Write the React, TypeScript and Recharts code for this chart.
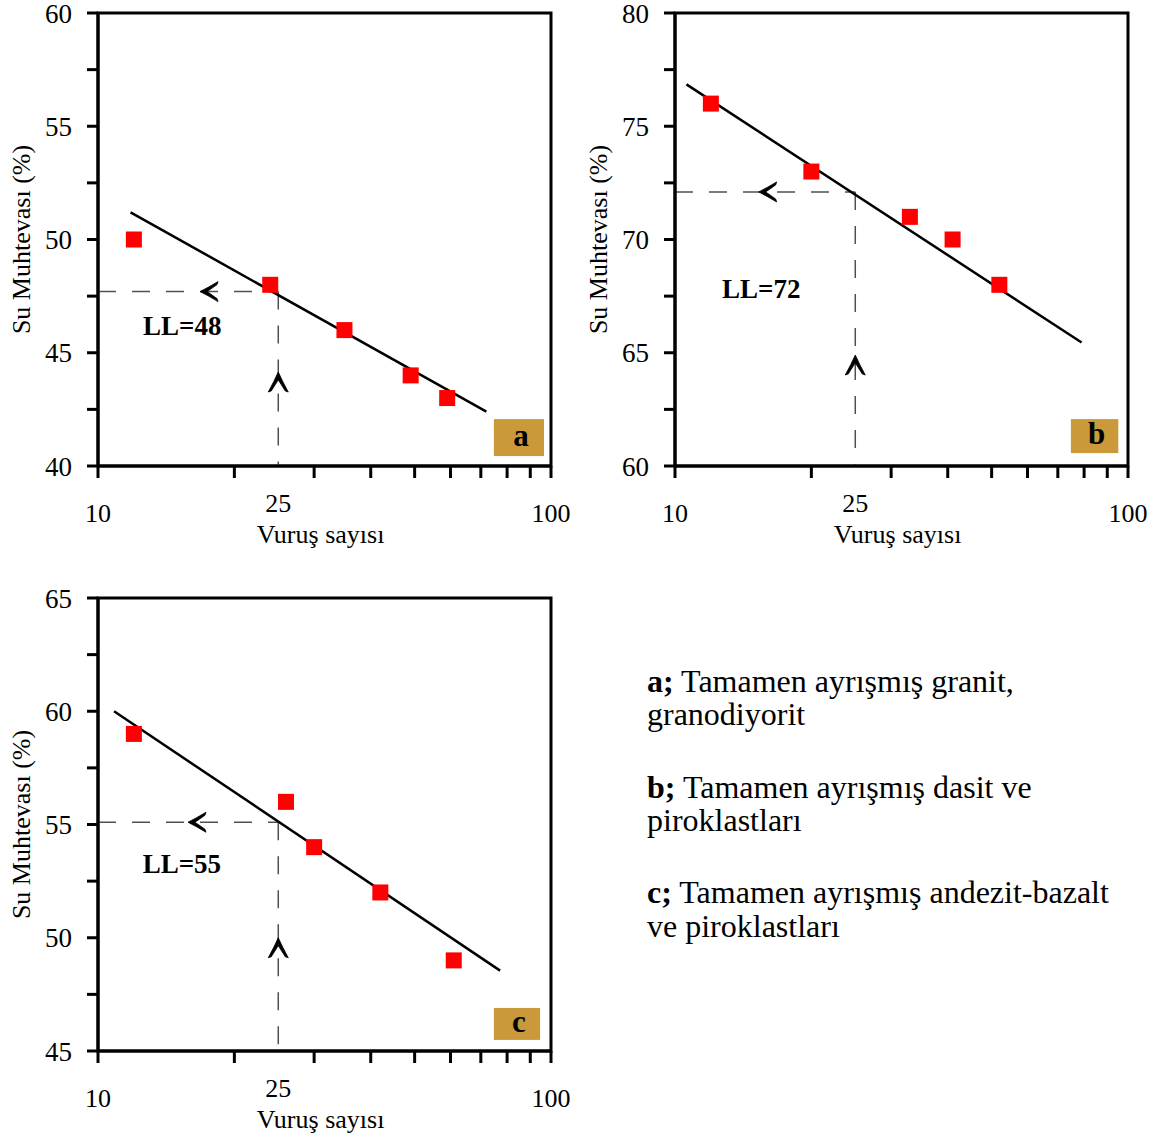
import React from 'react';
import {
  ComposedChart,
  Scatter,
  XAxis,
  YAxis,
  ReferenceLine,
  ReferenceArea,
  ReferenceDot,
  Label,
} from 'recharts';

// ---------- data ----------
const blowsA = [12, 24, 35, 49, 59];
const waterA = [50, 48, 46, 44, 43];
const blowsB = [12, 20, 33, 41, 52];
const waterB = [76, 73, 71, 70, 68];
const blowsC = [12, 26, 30, 42, 61];
const waterC = [59, 56, 54, 52, 49];

const fitXA = [11.8, 72];
const fitYA = [51.2, 42.4];
const fitXB = [10.6, 79];
const fitYB = [76.85, 65.45];
const fitXC = [10.85, 77.2];
const fitYC = [60.0, 48.55];

const llValues = [47.7, 72.1, 55.1];
const llTexts = ['LL=48', 'LL=72', 'LL=55'];
const blows25 = 25;

const xTicks = [10, 20, 25, 30, 40, 50, 60, 70, 80, 90, 100];
const xLabelTicks = [10, 25, 100];
const yTicksA = [40, 42.5, 45, 47.5, 50, 52.5, 55, 57.5, 60];
const yTicksB = [60, 62.5, 65, 67.5, 70, 72.5, 75, 77.5, 80];
const yTicksC = [45, 47.5, 50, 52.5, 55, 57.5, 60, 62.5, 65];

const xTitle = 'Vuruş sayısı';
const yTitle = 'Su Muhtevası (%)';
const badges = ['a', 'b', 'c'];

const legendLines = [
  { bold: 'a;', text: ' Tamamen ayrışmış granit,' },
  { bold: '', text: 'granodiyorit' },
  { bold: 'b;', text: ' Tamamen ayrışmış dasit ve' },
  { bold: '', text: 'piroklastları' },
  { bold: 'c;', text: ' Tamamen ayrışmış andezit-bazalt' },
  { bold: '', text: 've piroklastları' },
];

// ---------- styles ----------
const FONT = "'Liberation Serif', 'Times New Roman', Times, serif";
const DASH = '#505050';
const BADGE = '#C9993A';

const XTick = (props: any) => {
  const { x, y, payload } = props;
  const v = payload.value;
  const major = v % 10 === 0;
  const showLabel = xLabelTicks.includes(v);
  return (
    <g>
      {major && <line x1={x} y1={y - 12} x2={x} y2={y} stroke="#000" strokeWidth={3} />}
      {showLabel && (
        <text x={x} y={v === 25 ? y + 34 : y + 44} textAnchor="middle" fontFamily={FONT} fontSize={26} fill="#000">
          {v}
        </text>
      )}
    </g>
  );
};

const leftHead = (cx: number, cy: number) =>
  `M ${cx} ${cy} Q ${cx + 8} ${cy - 4} ${cx + 18} ${cy - 10} L ${cx + 17} ${cy - 7} Q ${cx + 10} ${cy - 2} ${cx + 7} ${cy} Q ${cx + 10} ${cy + 2} ${cx + 17} ${cy + 7} L ${cx + 18} ${cy + 10} Q ${cx + 8} ${cy + 4} ${cx} ${cy} Z`;
const upHead = (cx: number, cy: number) =>
  `M ${cx} ${cy} Q ${cx - 4} ${cy + 9} ${cx - 10} ${cy + 20} L ${cx - 7} ${cy + 19} Q ${cx - 2} ${cy + 11} ${cx} ${cy + 8} Q ${cx + 2} ${cy + 11} ${cx + 7} ${cy + 19} L ${cx + 10} ${cy + 20} Q ${cx + 4} ${cy + 9} ${cx} ${cy} Z`;

type PanelProps = {
  left: number;
  top: number;
  blows: number[];
  water: number[];
  fitX: number[];
  fitY: number[];
  yDomain: [number, number];
  yTicks: number[];
  ll: number;
  llText: string;
  llPos: [number, number];
  hArrowX: number;
  vArrowY: number;
  badge: string;
  badgeBox: [number, number, number, number];
};

const Panel = (p: PanelProps) => {
  const pts = p.blows.map((b, i) => ({ x: b, y: p.water[i] }));
  const [y0, y1] = p.yDomain;
  return (
    <div style={{ position: 'absolute', left: p.left, top: p.top }}>
      <ComposedChart width={580} height={553} margin={{ top: 13, right: 29, bottom: 27, left: 38 }}>
        <XAxis
          type="number"
          dataKey="x"
          scale="log"
          domain={[10, 100]}
          allowDataOverflow
          ticks={xTicks}
          interval={0}
          tickLine={false}
          tickSize={12}
          tickMargin={0}
          height={60}
          axisLine={{ stroke: '#000', strokeWidth: 3 }}
          tick={(tp: any) => <XTick {...tp} />}
        >
          <Label
            content={(lp: any) => {
              const vb = lp.viewBox;
              return (
                <text x={vb.x + vb.width / 2 - 4} y={vb.y + 77} textAnchor="middle" fontFamily={FONT} fontSize={26} fill="#000">
                  {xTitle}
                </text>
              );
            }}
          />
        </XAxis>
        <YAxis
          type="number"
          dataKey="y"
          domain={p.yDomain}
          allowDataOverflow
          ticks={p.yTicks}
          interval={0}
          width={60}
          tickSize={11}
          tickMargin={15}
          tickFormatter={(v: number) => (v % 5 === 0 ? String(v) : '')}
          tickLine={{ stroke: '#000', strokeWidth: 3 }}
          axisLine={{ stroke: '#000', strokeWidth: 3 }}
          tick={{ fill: '#000', fontSize: 27, fontFamily: FONT }}
        >
          <Label
            content={(lp: any) => {
              const vb = lp.viewBox;
              const cx = vb.x - 17;
              const cy = vb.y + vb.height / 2;
              return (
                <text
                  x={cx}
                  y={cy}
                  transform={`rotate(-90 ${cx} ${cy})`}
                  textAnchor="middle"
                  dominantBaseline="central"
                  fontFamily={FONT}
                  fontSize={26}
                  fill="#000"
                >
                  {yTitle}
                </text>
              );
            }}
          />
        </YAxis>

        {/* frame */}
        <ReferenceArea x1={10} x2={100} y1={y0} y2={y1} fill="none" stroke="#000" strokeWidth={3} ifOverflow="visible" />

        {/* dashed guide lines */}
        <ReferenceLine
          segment={[{ x: 10, y: p.ll }, { x: blows25, y: p.ll }]}
          stroke={DASH}
          strokeWidth={1.5}
          strokeDasharray="18 16"
          ifOverflow="visible"
        />
        <ReferenceLine
          segment={[{ x: blows25, y: p.ll }, { x: blows25, y: y0 }]}
          stroke={DASH}
          strokeWidth={1.5}
          strokeDasharray="18 16"
          ifOverflow="visible"
        />

        {/* fitted line */}
        <ReferenceLine
          segment={[{ x: p.fitX[0], y: p.fitY[0] }, { x: p.fitX[1], y: p.fitY[1] }]}
          stroke="#000"
          strokeWidth={2.5}
          ifOverflow="visible"
        />

        <Scatter
          data={pts}
          isAnimationActive={false}
          shape={(sp: any) => <rect x={sp.cx - 8} y={sp.cy - 8} width={16} height={16} fill="#FF0000" />}
        />

        {/* arrows */}
        <ReferenceDot
          x={p.hArrowX}
          y={p.ll}
          r={0}
          ifOverflow="visible"
          shape={(sp: any) => <path d={leftHead(sp.cx, sp.cy)} fill="#000" stroke="#000" strokeWidth={0.8} />}
        />
        <ReferenceDot
          x={blows25}
          y={p.vArrowY}
          r={0}
          ifOverflow="visible"
          shape={(sp: any) => <path d={upHead(sp.cx, sp.cy)} fill="#000" stroke="#000" strokeWidth={0.8} />}
        />

        {/* LL label */}
        <ReferenceDot
          x={p.llPos[0]}
          y={p.llPos[1]}
          r={0}
          ifOverflow="visible"
          shape={(sp: any) => (
            <text x={sp.cx} y={sp.cy} fontFamily={FONT} fontWeight="bold" fontSize={27} fill="#000">
              {p.llText}
            </text>
          )}
        />

        {/* badge */}
        <ReferenceArea
          x1={p.badgeBox[0]}
          x2={p.badgeBox[1]}
          y1={p.badgeBox[2]}
          y2={p.badgeBox[3]}
          ifOverflow="visible"
          shape={(sp: any) => (
            <g>
              <rect x={sp.x} y={sp.y} width={sp.width} height={sp.height} fill={BADGE} />
              <text
                x={sp.x + sp.width / 2 + 2}
                y={sp.y + sp.height / 2 + 8}
                textAnchor="middle"
                fontFamily={FONT}
                fontWeight="bold"
                fontSize={31}
                fill="#000"
              >
                {p.badge}
              </text>
            </g>
          )}
        />
      </ComposedChart>
    </div>
  );
};

const Legend = () => {
  const baselines = [51.7, 85, 157.5, 191, 263.3, 296.7];
  return (
    <svg style={{ position: 'absolute', left: 640, top: 640 }} width={515} height={320}>
      {legendLines.map((l, i) => (
        <text key={i} x={7} y={baselines[i]} fontFamily={FONT} fontSize={32} fill="#000">
          {l.bold && <tspan fontWeight="bold">{l.bold}</tspan>}
          <tspan>{l.text}</tspan>
        </text>
      ))}
    </svg>
  );
};

export default function App() {
  return (
    <div style={{ position: 'absolute', left: 0, top: 0, width: 1158, height: 1138, background: '#fff' }}>
      <Panel
        left={0}
        top={0}
        blows={blowsA}
        water={waterA}
        fitX={fitXA}
        fitY={fitYA}
        yDomain={[40, 60]}
        yTicks={yTicksA}
        ll={llValues[0]}
        llText={llTexts[0]}
        llPos={[12.57, 45.8]}
        hArrowX={16.8}
        vArrowY={44.15}
        badge={badges[0]}
        badgeBox={[74.8, 96.5, 40.44, 42.07]}
      />
      <Panel
        left={577}
        top={0}
        blows={blowsB}
        water={waterB}
        fitX={fitXB}
        fitY={fitYB}
        yDomain={[60, 80]}
        yTicks={yTicksB}
        ll={llValues[1]}
        llText={llTexts[1]}
        llPos={[12.7, 67.4]}
        hArrowX={15.3}
        vArrowY={64.9}
        badge={badges[1]}
        badgeBox={[74.8, 95.2, 60.57, 62.07]}
      />
      <Panel
        left={0}
        top={585}
        blows={blowsC}
        water={waterC}
        fitX={fitXC}
        fitY={fitYC}
        yDomain={[45, 65]}
        yTicks={yTicksC}
        ll={llValues[2]}
        llText={llTexts[2]}
        llPos={[12.55, 52.85]}
        hArrowX={15.8}
        vArrowY={50.0}
        badge={badges[2]}
        badgeBox={[74.8, 94.6, 45.49, 46.9]}
      />
      <Legend />
    </div>
  );
}
